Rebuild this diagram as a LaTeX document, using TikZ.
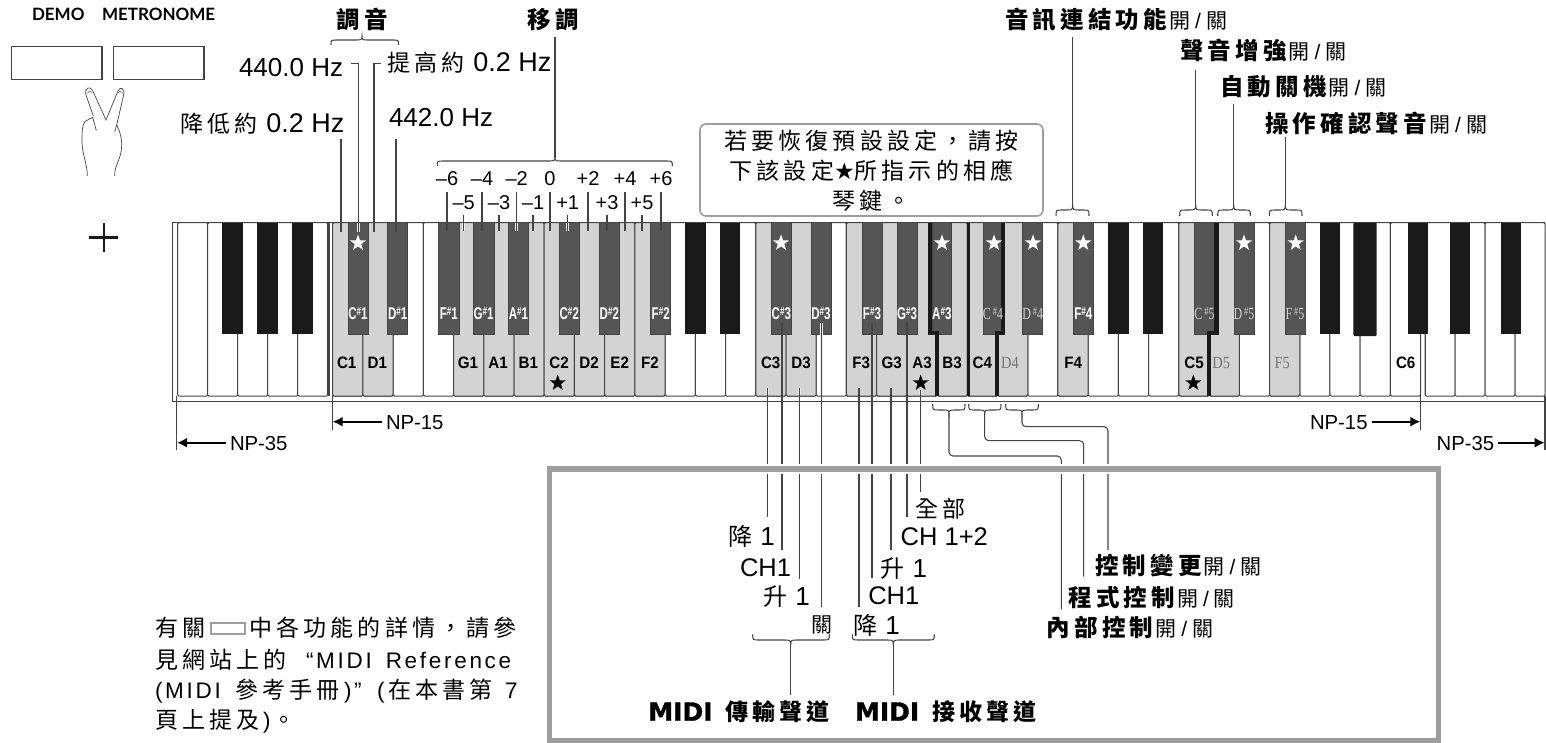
\documentclass[tikz,border=0pt]{standalone}
\usepackage{fontspec}
\usetikzlibrary{shapes.geometric,arrows.meta}
\setmainfont{Liberation Sans}
\newfontfamily\zh[LetterSpace=18]{Noto Sans CJK TC}
\newfontfamily\zhn{Noto Sans CJK TC}
\newfontfamily\lsp[LetterSpace=12]{Liberation Sans}
\newfontfamily\ser{Liberation Serif}
\newfontfamily\djv{DejaVu Sans}
\newfontfamily\midib[FakeBold=1.2]{DejaVu Sans Bold}
\newfontfamily\demo{Lato}
\newcommand\sz[1]{\fontsize{#1}{#1}\selectfont}
\newcommand\onoff{{\mdseries\hspace{2pt}{\sz{21}\zhn 開}\hspace{5pt}{\sz{21}\rmfamily /}\hspace{5pt}{\sz{21}\zhn 關}}}
\newcommand\cn[2]{{\sz{24}\zhn #1}\hspace{8pt}{\sz{26}\rmfamily #2}}
\newcommand\shp[2]{\scalebox{.68}[1]{\sz{17}\bfseries #1\raisebox{3.5pt}{\sz{12}\#}#2}}
\newcommand\shs[2]{\scalebox{.7}[1]{\sz{17}\ser #1\,\raisebox{3.5pt}{\sz{12}\#}#2}}
\newcommand\kbrace[6]{\draw[lead] (#1,#4) .. controls (#1,#5) and (#1,#5) .. (#1+6,#5) -- (#3-6,#5) .. controls (#3-1,#5) and (#3,#5) .. (#3,#6) .. controls (#3,#5) and (#3+1,#5) .. (#3+6,#5) -- (#2-6,#5) .. controls (#2,#5) and (#2,#5) .. (#2,#4);}
\newcommand\leadline[4]{\coordinate (#1-a) at (#2,#3); \coordinate (#1-b) at (#2,#4); \draw[lead] (#1-a) -- (#1-b);}
% leader that starts inside a key: the halo covers only the part inside the keyboard
\newcommand\haloup[4]{\coordinate (#1-a) at (#2,#3); \coordinate (#1-b) at (#2,#4); \draw[halo] (#1-a) -- (#2,223.5); \draw[lead] (#1-a) -- (#1-b);}
\newcommand\halodn[4]{\coordinate (#1-a) at (#2,#3); \coordinate (#1-b) at (#2,#4); \draw[halo] (#1-a) -- (#2,395); \draw[lead] (#1-a) -- (#1-b);}
\definecolor{hlblack}{HTML}{555555}
\definecolor{kblack}{HTML}{1A1A1A}
\definecolor{hlwhite}{HTML}{D3D3D3}
\definecolor{edge}{HTML}{444444}
\definecolor{fr}{HTML}{9E9E9E}
\tikzset{
 x=1pt,y=-1pt,
 lead/.style={draw=edge,line width=1.05pt},
 halo/.style={draw=white!92!black,line width=2.8pt},
 txt/.style={anchor=base west,inner sep=0pt,outer sep=0pt,text=black},
 ctxt/.style={anchor=base,inner sep=0pt,outer sep=0pt,text=black},
 keyw/.style={draw=edge,line width=1pt,rounded corners=1.2pt},
 keyb/.style={draw=edge,line width=.8pt},
 wstar/.style={star,star points=5,star point ratio=2.5,fill=white,inner sep=0pt,minimum size=17pt},
 bstar/.style={star,star points=5,star point ratio=2.5,fill=black,inner sep=0pt,minimum size=17pt},
 npa/.style={draw=black,line width=2pt,-{Latex[length=10pt,width=10pt]}},
 btn/.style={draw=edge,line width=1.1pt},
 hand/.style={draw=edge,line width=.7pt},
}
\begin{document}
\begin{tikzpicture}
\useasboundingbox (0,0) rectangle (1546,743);
% top-left buttons and hand
\node[txt] (demo) at (32,20.5) {\sz{17}\demo\bfseries DEMO};
\node[txt] (metro) at (102,20.5) {\sz{17}\demo\bfseries METRONOME};
\draw[btn] (11.5,46.5) rectangle (102,79.5);
\draw[btn] (113.5,46.5) rectangle (204,79.5);
\begin{scope}[scale=1/3]
\draw[hand] (262,528) .. controls (262,490) and (245,460) .. (246,420) .. controls (246,395) and (247,372) .. (255,365) .. controls (262,360) and (270,355) .. (278,352) -- (289,392)
 (280,348) -- (258,285) .. controls (252,265) and (270,255) .. (278,272) -- (318,360) -- (353,275) .. controls (358,258) and (376,262) .. (371,285) -- (350,375) .. controls (360,395) and (368,420) .. (364,450) .. controls (360,480) and (343,500) .. (344,528);
\draw[hand,draw=gray] (262,280) .. controls (268,272) and (272,272) .. (276,278) (355,280) .. controls (358,272) and (364,272) .. (368,280);
\draw[hand] (350,375) -- (344,395);
\end{scope}
% plus
\draw[kblack,line width=2.8pt] (104,223.3) -- (104,251.7) (89.3,237.7) -- (118.3,237.7);
% keys
\foreach \i in {0,...,35}{ \draw[keyw,fill=white] (332.7+30.22*\i,222.7) rectangle (332.7+30.22*\i+30.22,396); }
\foreach \i in {0,...,4}{ \draw[keyw,fill=white] (177.7+30*\i,222.7) rectangle (177.7+30*\i+30,396); }
\foreach \i in {0,...,3}{ \draw[keyw,fill=white] (1425+30*\i,222.7) rectangle (1425+30*\i+30,396); }
\foreach \i in {0,1,4,5,6,7,8,9,10,14,15,17,18,19,20,21,22,24,28,29,31}{ \draw[keyw,fill=hlwhite] (332.7+30.22*\i,222.7) rectangle (332.7+30.22*\i+30.22,396); }
\draw[edge,line width=1pt] (172.3,222.7) -- (172.3,401) -- (1545,401);
\draw[edge,line width=1.2pt] (172.3,222.7) -- (1545,222.7);
\draw[edge,line width=2pt] (329,222.7) -- (329,396);
\foreach \a/\b in {222.3/243,257.3/277.7,292.3/312.7,685/705.7,720/740.3,1108.3/1129,1143/1163.3,1319.7/1340.3,1408/1428.3,1449.7/1470.3,1500.7/1521.3}{ \fill[kblack] (\a,222.7) rectangle (\b,334.3); }
\fill[kblack,rounded corners=1pt] (1353.3,222.7) rectangle (1376.7,336);
\foreach \a/\b in {348/368.3,387.7/407.7,438.7/459,473.3/494,508.3/528.7,559.3/579.3,599.3/619.3,650.7/670.7,771.3/791.3,811/831,862/882,897/917,932/951.7,983.3/1001,1022.7/1042.7,1073.3/1093.3,1194.3/1214,1234/1254,1285/1305}{ \draw[keyb,fill=hlblack] (\a,222.7) rectangle (\b,334.3); }
% thick key separators
\fill[kblack] (928,222.7) rectangle (932.4,335);
\fill[kblack] (928,331) rectangle (938.7,335);
\fill[kblack] (934.8,331) rectangle (938.7,396);
\fill[kblack] (966.7,222.7) rectangle (970,396);
\fill[kblack] (1001,222.7) rectangle (1005,335);
\fill[kblack] (995.3,331) rectangle (1005,335);
\fill[kblack] (995.3,331) rectangle (999.3,396);
\fill[kblack] (1214,222.7) rectangle (1218.7,335);
\fill[kblack] (1206.7,331) rectangle (1218.7,335);
\fill[kblack] (1206.7,331) rectangle (1211,396);
% leaders through the keys (under the key labels)
\haloup{ld}{341}{232}{139}
\coordinate (h1) at (351,63.5); \coordinate (h1k) at (358.3,232);
\draw[halo] (h1k) -- (358.3,223.5);
\draw[lead] (h1) -| (h1k);
\coordinate (h2) at (381,63.5); \coordinate (h2k) at (374,232);
\draw[halo] (h2k) -- (374,223.5);
\draw[lead] (h2) -| (h2k);
\haloup{lf}{396}{232}{139}
\foreach \x [count=\i] in {447,482,516.7,550,588,625,661}{ \haloup{lu\i}{\x}{231}{192} }
\foreach \x [count=\i] in {463.7,499,533,567.7,607,642}{ \haloup{ll\i}{\x}{231}{215} }
\halodn{ma}{767.3}{388}{517.3}
\halodn{mb}{782}{323}{550}
\halodn{mc}{799.3}{388}{579.3}
\halodn{md}{821.7}{323}{607.3}
\halodn{me}{859}{388}{607.3}
\halodn{mf}{872}{323}{578.3}
\halodn{mg}{891}{388}{550}
\halodn{mh}{907}{323}{517.3}
\halodn{mi}{920.7}{390}{491.7}
% white key labels
\foreach \t/\x in {C1/346.7,D1/377.3,G1/468,A1/498,B1/528.3,C2/559,D2/589,E2/619.7,F2/650,C3/770.7,D3/801,F3/861.3,G3/891.7,A3/922,B3/952,C4/982.3,F4/1073.3,C5/1194,C6/1405.7}{ \node[ctxt] (k\t) at (\x,368.3) {\sz{16.5}\scalebox{.92}[1]{\bfseries\t}}; }
\foreach \t/\x in {D4/1010,D5/1221.3,F5/1282.3}{ \node[ctxt,text=black!55] (k\t) at (\x,368.3) {\sz{17}\ser\scalebox{.85}[1]{\t}}; }
% black key labels
\foreach \l/\o/\x in {C/1/358,D/1/397.7,F/1/448.8,G/1/483.6,A/1/518.5,C/2/569.3,D/2/609.3,F/2/660.7,C/3/781.3,D/3/821,F/3/872,G/3/907,A/3/941.8,F/4/1083.3}{ \node[ctxt,text=white] (k\l s\o) at (\x,319.3) {\shp{\l}{\o}}; }
\foreach \l/\o/\x in {C/4/993,D/4/1032.7,C/5/1204.5,D/5/1244,F/5/1295}{ \node[ctxt,text=black!18] (k\l s\o) at (\x,319.3) {\shs{\l}{\o}}; }
% stars
\foreach \x [count=\i] in {358,781,942,994,1033,1083.3,1244,1295.7}{ \node[wstar] (ws\i) at (\x,243) {}; }
\foreach \x [count=\i] in {557.7,920.7,1193.3}{ \node[bstar] (bs\i) at (\x,383) {}; }
% tuning
\node[ctxt] (tune) at (362,29) {\sz{23.5}\zh\bfseries 調音};
\kbrace{331}{398.5}{362}{45}{40}{36}
\node[txt] (t440) at (239,77) {\sz{26}440.0 Hz};
\node[txt] (tup) at (387,72) {\sz{23}\zh 提高約\hspace{9pt}{\sz{27}\rmfamily 0.2 Hz}};
\node[txt] (tdn) at (180,133) {\sz{23}\zh 降低約\hspace{9pt}{\sz{27}\rmfamily 0.2 Hz}};
\node[txt] (t442) at (389,127) {\sz{26}442.0 Hz};
% transpose
\node[ctxt] (trans) at (553,29) {\sz{23.5}\zh\bfseries 移調};
\leadline{ltr}{555}{37}{158}
\kbrace{437.3}{672.3}{555}{166}{161}{157}
\foreach \t/\x [count=\i] in {--6/447,--4/482,--2/516.7,0/550,+2/588,+4/625,+6/661}{ \node[ctxt] (tu\i) at (\x,186) {\sz{20}\t}; }
\foreach \t/\x [count=\i] in {--5/463.7,--3/499,--1/533,+1/567.7,+3/607,+5/642}{ \node[ctxt] (tl\i) at (\x,209.5) {\sz{20}\t}; }
% notice box
\node[draw=fr,line width=1.6pt,rounded corners=6pt,minimum width=343pt,minimum height=92pt,inner sep=0pt] (note) at (871.5,170) {};
\node[ctxt] (n1) at (871.5,150) {\sz{23}\zh 若要恢復預設設定，請按};
\node[ctxt] (n2) at (871.5,180) {\sz{23}\zh 下該設定{\djv ★}所指示的相應};
\node[ctxt] (n3) at (871.5,210) {\sz{23}\zh 琴鍵。};
% top right labels
\node[txt] (au) at (1005,29) {\sz{23.5}\zh\bfseries 音訊連結功能\onoff};
\node[txt] (sb) at (1180,60) {\sz{23.5}\zh\bfseries 聲音增強\onoff};
\node[txt] (ao) at (1220,95.7) {\sz{23.5}\zh\bfseries 自動關機\onoff};
\node[txt] (op) at (1265,132.7) {\sz{23.5}\zh\bfseries 操作確認聲音\onoff};
\leadline{la}{1072.7}{37}{205}
\kbrace{1056}{1089}{1072.7}{216}{210}{205}
\leadline{ls}{1195.7}{70}{205}
\kbrace{1179.7}{1212.3}{1195.7}{216}{210}{205}
\leadline{lo}{1233.7}{104}{205}
\kbrace{1217.7}{1250.3}{1233.7}{216}{210}{205}
\leadline{lp}{1285.3}{137}{205}
\kbrace{1269.3}{1302}{1285.3}{216}{210}{205}
% NP marks
\coordinate (np15l) at (332.3,396); \coordinate (np15lb) at (332.3,430);
\coordinate (np35l) at (176.7,396); \coordinate (np35lb) at (176.7,450);
\coordinate (np15r) at (1420.7,334); \coordinate (np15rb) at (1420.7,430);
\coordinate (np35r) at (1545,396); \coordinate (np35rb) at (1545,450);
\draw[lead] (np15l) -- (np15lb) (np35l) -- (np35lb) (np15r) -- (np15rb) (np35r) -- (np35rb);
\draw[edge,line width=1pt] (1425,334) -- (1425,396);
\node[txt] (nl15) at (386,429) {\sz{20.3}NP-15};
\node[txt] (nl35) at (230,450) {\sz{20.3}NP-35};
\node[txt] (nr15) at (1310,429) {\sz{20.3}NP-15};
\node[txt] (nr35) at (1436.7,450) {\sz{20.3}NP-35};
\draw[npa] (nl15.west |- 0,421.7) ++(-4,0) -- (332.6,421.7);
\draw[npa] (nl35.west |- 0,442.7) ++(-4,0) -- (177,442.7);
\draw[npa] (nr15.east |- 0,421.7) ++(4,0) -- (1420.4,421.7);
\draw[npa] (nr35.east |- 0,442.7) ++(4,0) -- (1544.7,442.7);
% lower braces and routed connectors
\kbrace{932.7}{965}{949}{404}{410}{414}
\kbrace{968.7}{1001}{984.7}{404}{410}{414}
\kbrace{1005.7}{1038.3}{1022}{404}{410}{414}
\coordinate (c1a) at (949,414); \coordinate (c1b) at (1061.3,609.3);
\coordinate (c2a) at (984.7,414); \coordinate (c2b) at (1083.7,576.7);
\coordinate (c3a) at (1022,414); \coordinate (c3b) at (1108,550);
\draw[lead,rounded corners=4pt] (c1a) |- (1061.3,456) -- (c1b);
\draw[lead,rounded corners=4pt] (c2a) |- (1083.7,440.7) -- (c2b);
\draw[lead,rounded corners=4pt] (c3a) |- (1108,426.7) -- (c3b);
% MIDI frame
\draw[white,line width=10pt] (549.3,469) rectangle (1438.3,740.7);
\node[draw=fr,line width=5.6pt,inner sep=0pt,minimum width=889pt,minimum height=271.7pt] (frame) at (993.8,604.85) {};
% MIDI labels
\node[txt] (m1) at (915,517) {\sz{23}\zh 全部};
\node[txt] (m2) at (900.7,545) {\sz{25.5}CH 1+2};
\node[txt] (m3) at (880.7,577) {\cn{升}{1}};
\node[txt] (m4) at (868.3,604.3) {\sz{25.5}CH1};
\node[txt] (m5) at (853.3,634.3) {\cn{降}{1}};
\node[txt] (m6) at (728.3,545) {\cn{降}{1}};
\node[txt] (m7) at (740,576.7) {\sz{25.5}CH1};
\node[txt] (m8) at (763.3,605) {\cn{升}{1}};
\node[txt] (m9) at (811.7,632.3) {\sz{21}\zhn 關};
\kbrace{752.7}{829.3}{790.7}{634.3}{640}{645}
\kbrace{852.3}{934.3}{893.3}{634.3}{640}{645}
\leadline{mt}{790.7}{645}{695}
\leadline{mr}{893.3}{645}{695}
\node[txt] (tx) at (648.3,720.7) {\sz{25}\midib MIDI\hspace{13pt}{\sz{23}\zh\bfseries 傳輸聲道}};
\node[txt] (rx) at (855,720.7) {\sz{25}\midib MIDI\hspace{13pt}{\sz{23}\zh\bfseries 接收聲道}};
\node[txt] (cc) at (1095,574) {\sz{23.5}\zh\bfseries 控制變更\onoff};
\node[txt] (pc) at (1068.3,606) {\sz{23.5}\zh\bfseries 程式控制\onoff};
\node[txt] (lc) at (1046.7,636.7) {\sz{23.5}\zh\bfseries 內部控制\onoff};
% note paragraph
\node[txt] (p1a) at (155,636.7) {\sz{23}\zh 有關};
\node[draw=fr,line width=2.4pt,inner sep=0pt,minimum width=34pt,minimum height=11pt] (pbox) at (228,628.5) {};
\node[txt] (p1b) at (249.3,636.7) {\sz{23}\zh 中各功能的詳情，請參};
\node[txt] (p2a) at (155,668) {\sz{23}\zh 見網站上的};
\node[txt] (p2b) at (306,668) {\sz{22.5}\lsp “MIDI\hspace{14pt}Reference};
\node[txt] (p3a) at (155,698) {\sz{22.5}\lsp (MIDI};
\node[txt] (p3b) at (235,698) {\sz{23}\zh 參考手冊};
\node[txt] (p3c) at (344,698) {\sz{22.5}\lsp )”};
\node[txt] (p3d) at (377,698) {\sz{22.5}\lsp (};
\node[txt] (p3e) at (388,698) {\sz{23}\zh 在本書第};
\node[txt] (p3f) at (505,698) {\sz{22.5}\lsp 7};
\node[txt] (p4a) at (155,728) {\sz{23}\zh 頁上提及};
\node[txt] (p4b) at (263,728) {\sz{22.5}\lsp )};
\node[txt] (p4c) at (272,728) {\sz{23}\zh 。};
\end{tikzpicture}
\end{document}
